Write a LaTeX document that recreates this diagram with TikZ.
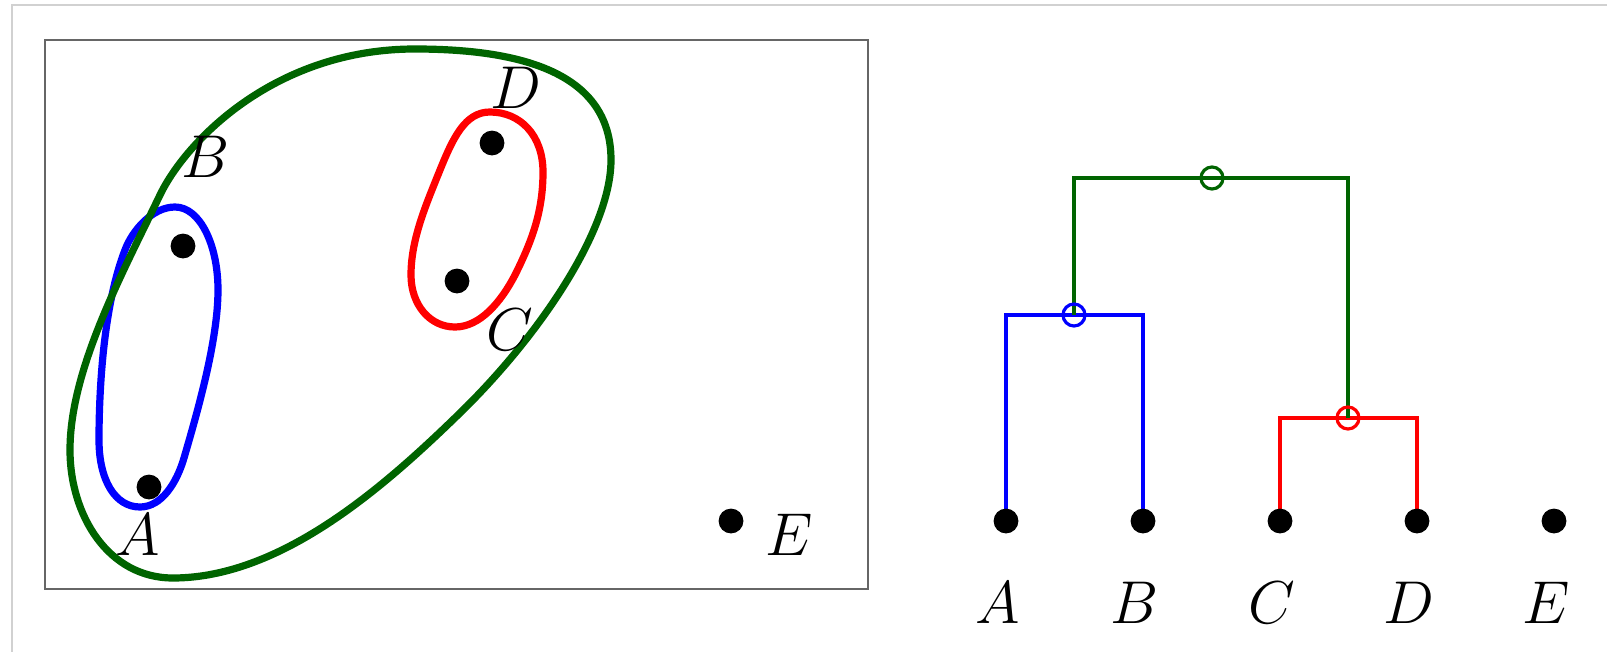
\RequirePackage{fix-cm}
\documentclass[tikz,border=0pt]{standalone}
\usepackage{amsmath}
\usepackage{xcolor}
\definecolor{darkgreen}{RGB}{0,100,0}

\begin{document}
\begin{tikzpicture}[x=0.025cm, y=-0.025cm]

        % Canvas (pixel units, y pointing down)
        \useasboundingbox (0,0) rectangle (1607,652);
        \draw[line width=0.05cm, black!18] (12,652) -- (12,5) -- (1607,5);

        \tikzset{dot/.style={fill=black, circle, minimum size=0.62cm, inner sep=0pt},
                 lbl/.style={inner sep=0pt, font=\fontsize{43}{50}\selectfont},
                 loop/.style={line width=0.18cm, line join=round},
                 link/.style={line width=0.1cm},
                 merge/.style={circle, draw, line width=0.08cm, minimum size=0.55cm, inner sep=0pt}}

        % 1. Left panel: the frame
        \draw[line width=0.04cm, black!60] (45,40) rectangle (868,589);

        % 2. Nested clusters
        % Cluster {A,B}
        \draw[loop, blue] (175,207)
            .. controls (200,207) and (218,245) .. (218,290)
            .. controls (218,340) and (198,410) .. (184,458)
            .. controls (177,482) and (162,507) .. (140,507)
            .. controls (115,507) and (99,480) .. (99,440)
            .. controls (99,380) and (105,301) .. (125,250)
            .. controls (132,231) and (152,207) .. cycle;
        % Cluster {C,D}
        \draw[loop, red] (490,112)
            .. controls (520,112) and (543,135) .. (543,172)
            .. controls (543,210) and (533,239) .. (515,275)
            .. controls (501,302) and (480,327) .. (455,327)
            .. controls (430,327) and (411,305) .. (411,275)
            .. controls (411,240) and (425,207) .. (440,170)
            .. controls (453,138) and (465,112) .. cycle;
        % Cluster {A,B,C,D}
        \draw[loop, darkgreen] (415,49)
            .. controls (545,49) and (611,85) .. (611,160)
            .. controls (611,230) and (539,336) .. (460,413)
            .. controls (388,483) and (283,578) .. (173,578)
            .. controls (108,578) and (70,515) .. (70,450)
            .. controls (70,370) and (121,276) .. (160,195)
            .. controls (186,141) and (275,49) .. cycle;

        % 3. The points
        \node[dot] (pA) at (149,487) {};
        \node[dot] (pB) at (183,246) {};
        \node[dot] (pC) at (457,281) {};
        \node[dot] (pD) at (492,143) {};
        \node[dot] (pE) at (731,521) {};

        \node[lbl] (nA) at (138,535) {$A$};
        \node[lbl] (nB) at (206,157) {$B$};
        \node[lbl] (nC) at (510,330) {$C$};
        \node[lbl] (nD) at (516,88) {$D$};
        \node[lbl] (nE) at (789,535) {$E$};

        % 4. Right panel: the dendrogram
        \foreach \n/\x in {A/1006, B/1143, C/1280, D/1417, E/1554} {
            \coordinate (l\n) at (\x,521);
            \node[lbl] (t\n) at (\x-8,603) {$\n$};
        }

        \coordinate (mAB) at (1074,315);
        \coordinate (mCD) at (1348,418);
        \coordinate (mAll) at (1212,178);

        \draw[link, blue] (lA) |- (mAB) -| (lB);
        \draw[link, red] (lC) |- (mCD) -| (lD);
        \draw[link, darkgreen] (mAB) |- (mAll) -| (mCD);

        \foreach \n in {A, B, C, D, E}
            \node[dot] (d\n) at (l\n) {};

        \node[merge, blue] (cAB) at (mAB) {};
        \node[merge, red] (cCD) at (mCD) {};
        \node[merge, darkgreen] (cAll) at (mAll) {};

\end{tikzpicture}
\end{document}
